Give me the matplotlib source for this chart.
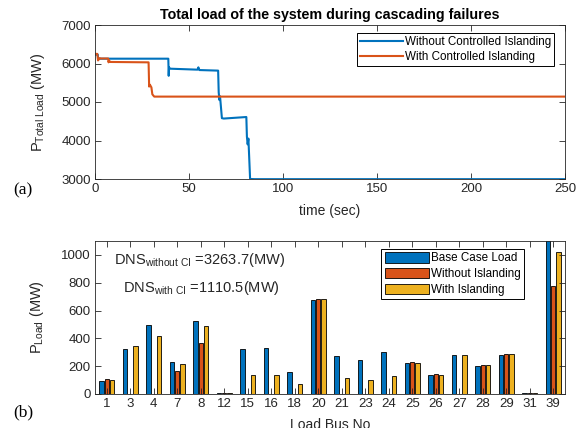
import matplotlib
matplotlib.use("Agg")
import matplotlib.pyplot as plt
import numpy as np

plt.rcParams["font.family"] = ["Liberation Sans", "DejaVu Sans"]
plt.rcParams["mathtext.fontset"] = "custom"
plt.rcParams["mathtext.rm"] = "Liberation Sans"
plt.rcParams["mathtext.it"] = "Liberation Sans:italic"
plt.rcParams["mathtext.bf"] = "Liberation Sans:bold"

BLUE = "#0072BD"
ORANGE = "#D95319"
YELLOW = "#EDB120"
AXC = "#262626"

# (a) total system load during the cascade, breakpoints of the traces
t_without = [0, 1.5, 1.6, 39.0, 39.2, 39.4, 39.6, 40.0, 54.5, 55.0, 55.5, 65.5,
             65.8, 66.2, 66.5, 67.5, 68.5, 80.5, 80.8, 81.2, 81.6, 82.5, 85.0, 250]
p_without = [6230, 6230, 6125, 6125, 5680, 5900, 5875, 5865, 5840, 5900, 5830, 5815,
             5250, 5050, 5150, 4580, 4570, 4610, 4100, 3900, 4050, 3000, 2996, 2996]

t_with = [0, 1.2, 1.4, 1.6, 2.5, 3.0, 7.0, 7.2, 7.5, 8.0, 28.5, 28.8, 29.2, 30.0,
          30.5, 31.5, 250]
p_with = [6250, 6250, 6180, 6080, 6140, 6130, 6130, 6030, 6080, 6040, 6030, 5400,
          5450, 5380, 5200, 5140, 5140]

# (b) per-bus loads after the cascade
buses = ["1", "3", "4", "7", "8", "12", "15", "16", "18", "20", "21", "23", "24",
         "25", "26", "27", "28", "29", "31", "39"]
base_load = [95, 320, 499, 231, 523, 10, 320, 329, 155, 678, 272, 246, 305,
             222, 138, 279, 203, 282, 9, 1104]
without_islanding = [105, 0, 0, 165, 367, 5, 0, 0, 0, 685, 0, 0, 0,
                     227, 141, 0, 208, 286, 9, 773]
with_islanding = [100, 344, 420, 217, 489, 5, 138, 138, 69, 683, 115, 100, 129,
                  224, 138, 282, 205, 284, 9, 1021]

fig = plt.figure(figsize=(5.84, 4.28), dpi=100)
W, H = 584, 428


def style_axes(ax):
    for s in ax.spines.values():
        s.set_color(AXC)
        s.set_linewidth(0.6)
    ax.tick_params(direction="in", length=4, width=0.6, color=AXC,
                   labelcolor=AXC, labelsize=9.5, top=True, right=True, pad=3)


ax1 = fig.add_axes([95 / W, 1 - 179 / H, 470 / W, 154 / H])
ax1.plot(t_without, p_without, color=BLUE, lw=1.5, label="Without Controlled Islanding")
ax1.plot(t_with, p_with, color=ORANGE, lw=1.5, label="With Controlled Islanding")
ax1.set_xlim(0, 250)
ax1.set_ylim(3000, 7000)
ax1.set_xticks(np.arange(0, 251, 50))
ax1.set_yticks(np.arange(3000, 7001, 1000))
style_axes(ax1)
ax1.set_title("Total load of the system during cascading failures",
              fontsize=10.3, fontweight="bold", pad=4)
ax1.set_xlabel("time (sec)", fontsize=10, color=AXC)
ax1.xaxis.set_label_coords(0.5, -(211 - 179) / 154)
ax1.xaxis.label.set_va("center")
ax1.set_ylabel(r"P$_{\mathrm{Total\ Load}}$ (MW)", fontsize=10.5, color=AXC)
ax1.yaxis.set_label_coords(-0.102, 0.5)
leg1 = ax1.legend(loc="upper right", bbox_to_anchor=(0.977, 0.948), fontsize=8.4,
                  frameon=True, fancybox=False, edgecolor="black", handlelength=3.7,
                  handletextpad=0.15, borderpad=0.25, labelspacing=0.3,
                  borderaxespad=0, framealpha=1)
leg1.get_frame().set_linewidth(0.7)

ax2 = fig.add_axes([95 / W, 1 - 394 / H, 470 / W, 153 / H])
x = np.arange(1, len(buses) + 1)
bw = 0.178
off = 0.222
ax2.bar(x - off, base_load, bw, color=BLUE, edgecolor="black", lw=0.6, label="Base Case Load")
ax2.bar(x, without_islanding, bw, color=ORANGE, edgecolor="black", lw=0.6, label="Without Islanding")
ax2.bar(x + off, with_islanding, bw, color=YELLOW, edgecolor="black", lw=0.6, label="With Islanding")
ax2.set_xlim(0.5, len(buses) + 0.5)
ax2.set_ylim(0, 1100)
ax2.set_xticks(x)
ax2.set_xticklabels(buses)
ax2.set_yticks(np.arange(0, 1001, 200))
style_axes(ax2)
ax2.set_xlabel("Load Bus No", fontsize=10, color=AXC)
ax2.xaxis.set_label_coords(0.5, -(418 - 394) / 153)
ax2.xaxis.label.set_va("top")
ax2.set_ylabel(r"P$_{\mathrm{Load}}$ (MW)", fontsize=10.5, color=AXC)
ax2.yaxis.set_label_coords(-0.104, 0.5)
leg2 = ax2.legend(loc="upper right", bbox_to_anchor=(0.913, 0.948), fontsize=8.4,
                  frameon=True, fancybox=False, edgecolor="black", handlelength=3.75,
                  handleheight=0.95, handletextpad=0.2, borderpad=0.3,
                  labelspacing=0.3, borderaxespad=0, framealpha=1)
leg2.get_frame().set_linewidth(0.7)

ax2.text(0.040, 0.850, r"DNS$_{\mathrm{without\ CI}}$ =3263.7(MW)", transform=ax2.transAxes,
         fontsize=10.5, color=AXC, ha="left", va="baseline")
ax2.text(0.060, 0.669, r"DNS$_{\mathrm{with\ CI}}$ =1110.5(MW)", transform=ax2.transAxes,
         fontsize=10.5, color=AXC, ha="left", va="baseline")

fig.text(13 / W, 1 - 190 / H, "(a)", fontsize=12.5, family="Liberation Serif",
         ha="left", va="center")
fig.text(13 / W, 1 - 412 / H, "(b)", fontsize=12.5, family="Liberation Serif",
         ha="left", va="center")

fig.savefig("out.png", dpi=100)
